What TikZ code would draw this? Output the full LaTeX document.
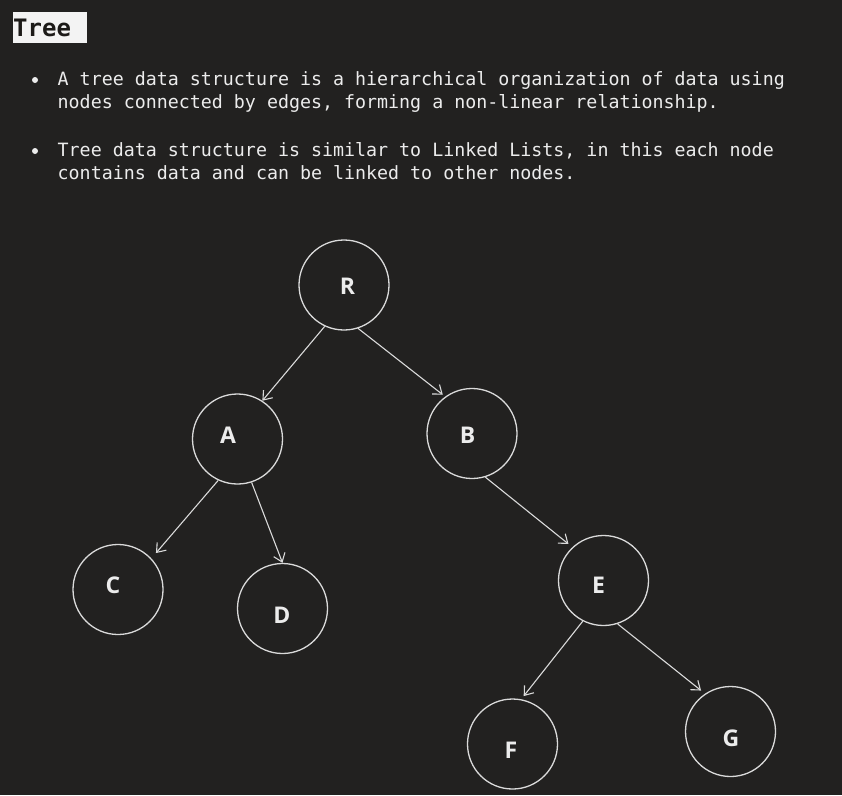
\documentclass[tikz,border=0pt]{standalone}
\usepackage{fontspec}
\setmonofont{DejaVu Sans Mono}
\newfontfamily\labfont{Open Sans}[BoldFont={Open Sans Bold}]
\usetikzlibrary{arrows.meta}
\definecolor{bg}{RGB}{34,33,32}
\definecolor{fg}{RGB}{236,236,236}
\definecolor{stroke}{RGB}{218,218,218}
\definecolor{titlebg}{RGB}{243,243,243}
\definecolor{titlefg}{RGB}{28,26,24}
\tikzset{
  treenode/.style={circle,draw=stroke,line width=1.3pt,minimum size=90pt,inner sep=0pt},
  treelab/.style={inner sep=0pt,text=fg,font=\labfont\bfseries\fontsize{23}{23}\selectfont},
  bodytext/.style={anchor=base west,inner sep=0pt,text=fg,font=\ttfamily\fontsize{18.3}{18.3}\selectfont},
  link/.style={draw=stroke,line width=1.1pt,-{Straight Barb[length=8pt,width=12pt,line width=1.1pt]}}
}
\begin{document}
\begin{tikzpicture}[x=1pt,y=-1pt]
\fill[bg] (0,0) rectangle (842,795);
\useasboundingbox (0,0) rectangle (842,795);
% title
\fill[titlebg] (13,12) rectangle (87,43);
\node[anchor=base west,inner sep=0pt,text=titlefg,font=\ttfamily\bfseries\fontsize{24}{24}\selectfont] (title) at (13,36) {Tree};
% bullets
\fill[fg] (35,80) circle (3);
\node[bodytext] (l1) at (57.5,85) {A tree data structure is a hierarchical organization of data using};
\node[bodytext] (l2) at (57.5,108) {nodes connected by edges, forming a non-linear relationship.};
\fill[fg] (35,151) circle (3);
\node[bodytext] (l3) at (57.5,156) {Tree data structure is similar to Linked Lists, in this each node};
\node[bodytext] (l4) at (57.5,179) {contains data and can be linked to other nodes.};
% nodes
\node[treenode] (R) at (344,285) {};
\node[treenode] (A) at (237.5,439) {};
\node[treenode] (B) at (472,433.5) {};
\node[treenode] (C) at (118,589.5) {};
\node[treenode] (D) at (282.5,608.5) {};
\node[treenode] (E) at (603.5,580.5) {};
\node[treenode] (F) at (512.5,744) {};
\node[treenode] (G) at (730.5,731.5) {};
% labels
\node[treelab] (Rl) at (347.5,286.5) {R};
\node[treelab] (Al) at (228,435) {A};
\node[treelab] (Bl) at (467.5,435.5) {B};
\node[treelab] (Cl) at (113,585.5) {C};
\node[treelab] (Dl) at (282,615.5) {D};
\node[treelab] (El) at (598.5,585.5) {E};
\node[treelab] (Fl) at (511,750.5) {F};
\node[treelab] (Gl) at (731,738.5) {G};
% edges
\draw[link] (R.245) -- (A.57);
\draw[link,shorten >=3pt] (R.288) -- (B.126);
\draw[link,shorten >=7pt] (A.245) -- (C.43);
\draw[link] (A.288) -- (D.90);
\draw[link,shorten >=5pt] (B.287) -- (E.133);
\draw[link,shorten >=4pt] (E.243) -- (F.79);
\draw[link,shorten >=5pt] (E.288) -- (G.124);
\end{tikzpicture}
\end{document}
